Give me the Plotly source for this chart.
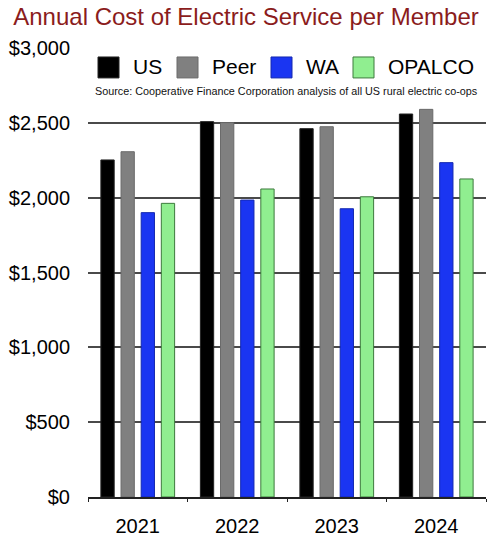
import plotly.graph_objects as go

# data
years = ["2021", "2022", "2023", "2024"]
us = [2252, 2508, 2461, 2559]
peer = [2307, 2501, 2474, 2590]
wa = [1900, 1984, 1926, 2234]
opalco = [1962, 2058, 2006, 2125]

names = ["US", "Peer", "WA", "OPALCO"]
colors = ["#000000", "#808080", "#1a35f2", "#90ee90"]
edges = ["#222222", "#6a6a6a", "#1428b0", "#3d7a3d"]
ytick_vals = [0, 500, 1000, 1500, 2000, 2500, 3000]
ytick_text = ["$0", "$500", "$1,000", "$1,500", "$2,000", "$2,500", "$3,000"]

font = "Liberation Sans, Arial, sans-serif"

fig = go.Figure()
for name, vals, col, edge in zip(names, [us, peer, wa, opalco], colors, edges):
    fig.add_trace(go.Bar(x=years, y=vals, name=name, marker_color=col,
                         marker_line=dict(color=edge, width=1), showlegend=False))

# legend drawn by hand so the swatches are as big as in the original
legend_x = [98, 177, 271, 353]
for name, col, edge, lx in zip(names, colors, edges, legend_x):
    fig.add_shape(type="rect", xref="paper", yref="paper",
                  x0=(lx - 88) / 398, x1=(lx + 21 - 88) / 398,
                  y0=1 - (78 - 48) / 450, y1=1 - (57 - 48) / 450,
                  fillcolor=col, line=dict(color=edge, width=1))
    fig.add_annotation(x=(lx + 33 - 88) / 398, y=1 - (67 - 48) / 450,
                       xref="paper", yref="paper", text=name, showarrow=False,
                       xanchor="left", yanchor="middle",
                       font=dict(size=21, color="black", family=font))

fig.add_annotation(x=(286 - 88) / 398, y=1 - (91 - 48) / 450, xref="paper", yref="paper",
                   text="Source: Cooperative Finance Corporation analysis of all US rural electric co-ops",
                   showarrow=False, xanchor="center", yanchor="middle",
                   font=dict(size=10.8, color="#111111", family=font))

fig.update_layout(
    width=492, height=540,
    margin=dict(l=88, r=6, t=48, b=43),
    paper_bgcolor="white", plot_bgcolor="white",
    title=dict(text="Annual Cost of Electric Service per Member", x=0.5, xanchor="center",
               y=0.97, yanchor="middle",
               font=dict(size=24, color="#8b1c1c", family=font)),
    barmode="group", bargap=0.19, bargroupgap=0.34,
    font=dict(family=font, color="black"),
)
fig.update_yaxes(range=[0, 3000], tickvals=ytick_vals, ticktext=ytick_text,
                 showgrid=True, gridcolor="#4a4a4a", gridwidth=1.5,
                 zeroline=False, showline=False, ticks="", automargin=False,
                 tickfont=dict(size=20, color="black"), ticklabelstandoff=17)
fig.update_xaxes(showline=True, linecolor="#222222", linewidth=1.5, automargin=False,
                 ticks="outside", tickson="boundaries", ticklen=3, tickcolor="#222222",
                 tickfont=dict(size=20, color="black"), ticklabelstandoff=10)

# drop the page margin so the figure sits at the window's corner
fig.write_html("out.html", config={"displayModeBar": False},
               post_script="document.body.style.margin='0';")
